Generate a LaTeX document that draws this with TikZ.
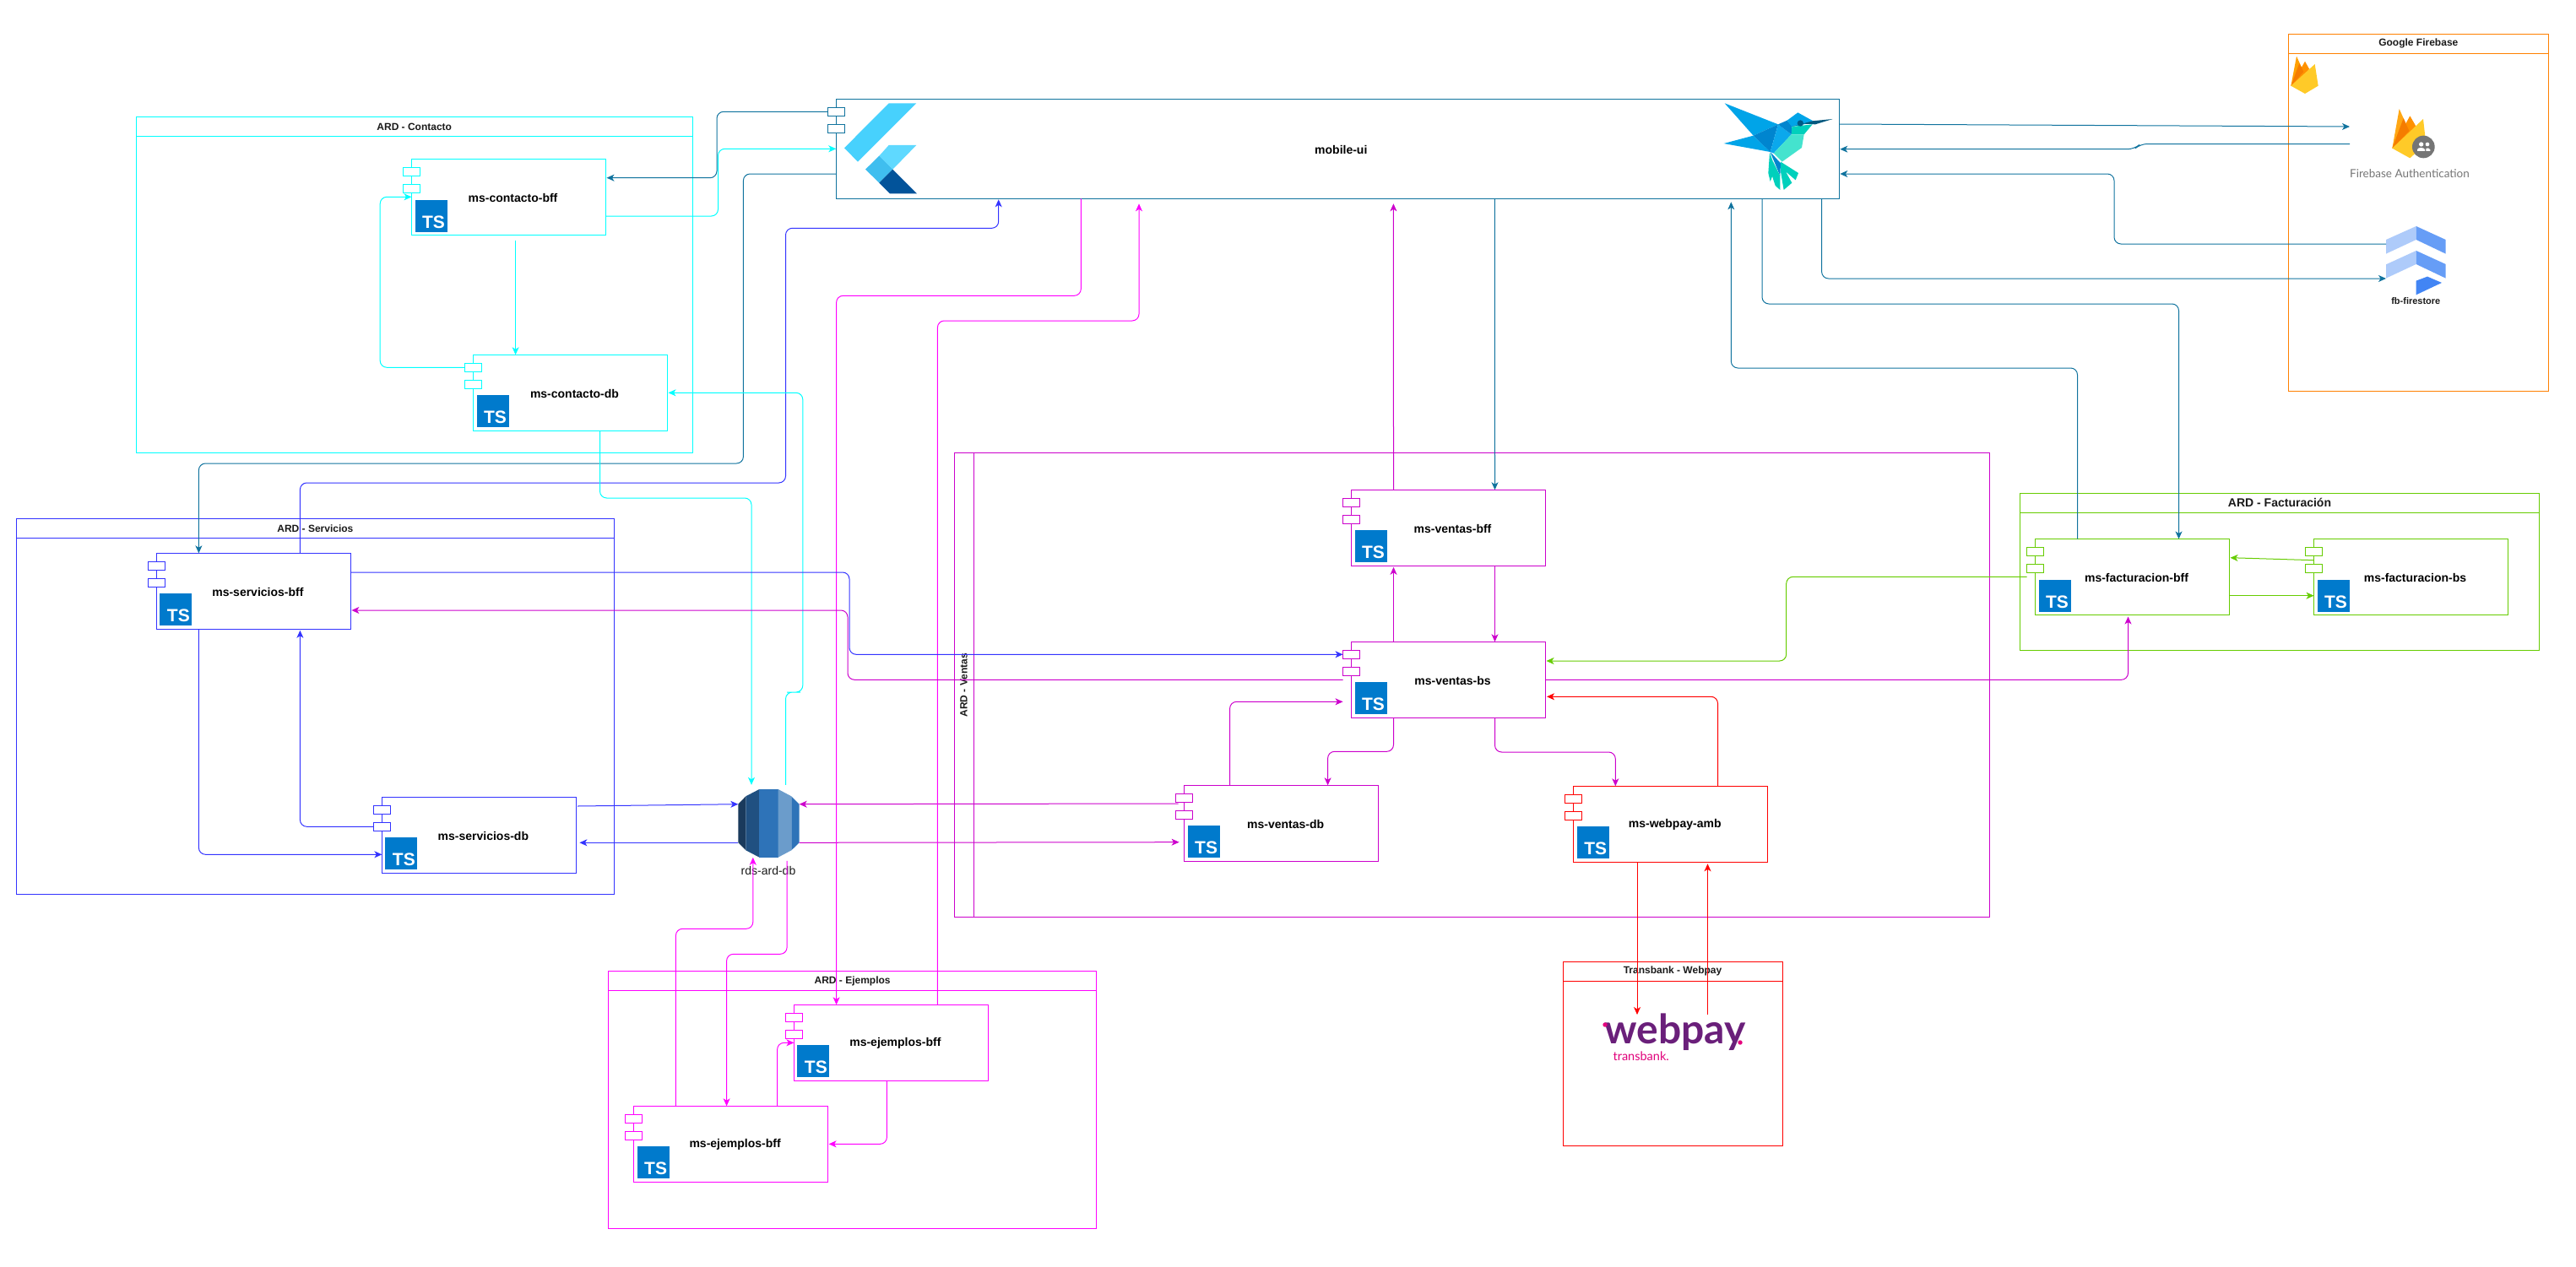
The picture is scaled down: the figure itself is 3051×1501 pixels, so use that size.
\documentclass[tikz,border=0pt]{standalone}
\usepackage{fontspec}
\usepackage{xcolor}
\usepackage{tikz}
\usetikzlibrary{arrows.meta}
\setmainfont{Liberation Sans}
\newfontfamily\logofont{Lato}

\definecolor{ardteal}{HTML}{10739E}
\definecolor{ardcyan}{HTML}{00FFFF}
\definecolor{ardblue}{HTML}{3333FF}
\definecolor{ardpink}{HTML}{FF00FF}
\definecolor{ardviolet}{HTML}{CC00CC}
\definecolor{ardgreen}{HTML}{66CC00}
\definecolor{ardred}{HTML}{FF0000}
\definecolor{ardorange}{HTML}{FF8000}
\definecolor{tsblue}{HTML}{007ACC}
\definecolor{titlegray}{HTML}{1A1A1A}

\tikzset{
	comp/.style={draw=#1,line width=1pt,inner sep=0pt,outer sep=0pt,minimum width=230pt,minimum height=90pt,anchor=north west},
	portbox/.style={draw=#1,fill=white,line width=1pt,inner sep=0pt,outer sep=0pt,minimum width=20pt,minimum height=10pt},
	tsicon/.style={fill=tsblue,text=white,inner sep=0pt,outer sep=0pt,minimum size=38pt,font=\fontsize{21}{21}\selectfont\bfseries},
	complabel/.style={font=\fontsize{14}{16}\selectfont\bfseries,inner sep=0pt},
	grouptitle/.style={font=\fontsize{12}{14}\selectfont\bfseries,text=titlegray,inner sep=0pt},
	groupbox/.style={draw=#1,line width=1pt,inner sep=0pt,outer sep=0pt,anchor=north west},
	spot/.style={inner sep=0pt,outer sep=0pt},
	link/.style={draw=#1,line width=1pt,rounded corners=8pt,-{Stealth[length=9pt,width=8pt,inset=2.5pt]}}
}

\begin{document}
\begin{tikzpicture}[x=1pt,y=-1pt]
	\useasboundingbox (0,0) rectangle (3051,1501);

	\foreach \nm/\gx/\gy/\gw/\gh/\col/\txt/\fs in {
		contacto/161/138.5/659.5/398/ardcyan/ARD - Contacto/12,
		servicios/19.5/614.3/707.8/445/ardblue/ARD - Servicios/12,
		ejemplos/720.6/1150.5/578/305/ardpink/ARD - Ejemplos/12,
		facturacion/2392.7/584.3/614.6/186/ardgreen/ARD - Facturación/14,
		transbank/1851/1139.3/260/218/ardred/Transbank - Webpay/12,
		firebase/2710.3/40.3/308/423/ardorange/Google Firebase/12}
	{
		\node[groupbox=\col,minimum width=\gw pt,minimum height=\gh pt] (\nm) at (\gx,\gy) {};
		\draw[draw=\col,line width=1pt] ([yshift=-23]\nm.north west) -- ([yshift=-23]\nm.north east);
		\node[grouptitle,font=\fontsize{\fs}{16}\selectfont\bfseries] (\nm-title) at ([yshift=-11.5]\nm.north) {\txt};
	}
	\node[groupbox=ardviolet,minimum width=1226pt,minimum height=550pt] (ventas) at (1130.3,536) {};
	\draw[draw=ardviolet,line width=1pt] ([xshift=23]ventas.north west) -- ([xshift=23]ventas.south west);
	\node[grouptitle,rotate=90] (ventas-title) at (1141.5,811.7) {ARD - Ventas};

	\foreach \nm/\cx/\cy/\col/\txt in {
		contacto-bff/487.5/188.5/ardcyan/ms-contacto-bff,
		contacto-db/560.5/420.3/ardcyan/ms-contacto-db,
		servicios-bff/185.4/655.3/ardblue/ms-servicios-bff,
		servicios-db/452.4/944.3/ardblue/ms-servicios-db,
		ventas-bff/1600.5/580.3/ardviolet/ms-ventas-bff,
		ventas-bs/1600.5/760.3/ardviolet/ms-ventas-bs,
		ventas-db/1402.6/930.3/ardviolet/ms-ventas-db,
		webpay/1863.7/931.3/ardred/ms-webpay-amb,
		facturacion-bff/2410.5/638.5/ardgreen/ms-facturacion-bff,
		facturacion-bs/2740.5/638.5/ardgreen/ms-facturacion-bs,
		ejemplos-bff/940.4/1190.3/ardpink/ms-ejemplos-bff,
		ejemplos-bff2/750.6/1310.3/ardpink/ms-ejemplos-bff}
	{
		\node[comp=\col] (\nm) at (\cx,\cy) {};
		\node[portbox=\col] (\nm-p1) at ([yshift=-15]\nm.north west) {};
		\node[portbox=\col] (\nm-p2) at ([yshift=-35]\nm.north west) {};
		\node[tsicon] (\nm-ts) at ([xshift=23,yshift=-67]\nm.north west) {\hspace{6pt}\smash{\raisebox{-14.5pt}{TS}}};
		\node[complabel] (\nm-label) at ([xshift=5,yshift=-1]\nm.center) {\txt};
	}

	\node[comp=ardteal,minimum width=1188pt,minimum height=118pt] (mobile) at (990.3,117.3) {};
	\node[portbox=ardteal] (mobile-p1) at ([yshift=-15]mobile.north west) {};
	\node[portbox=ardteal] (mobile-p2) at ([yshift=-35]mobile.north west) {};
	\node[complabel] (mobile-label) at ([xshift=4,yshift=-1.5]mobile.center) {mobile-ui};

	\begin{scope}[shift={(960,90)},x=0.3333pt,y=-0.3333pt]
		\fill[fill={rgb,255:red,71;green,209;blue,253}] (278,97) -- (376,97) -- (168,305) -- (120,256) -- cycle;
		\fill[fill={rgb,255:red,95;green,217;blue,255}] (278,246) -- (376,246) -- (292,332) -- (244,284) -- cycle;
		\fill[fill={rgb,255:red,63;green,190;blue,239}] (244,284) -- (292,332) -- (244,380) -- (195,332) -- cycle;
		\fill[fill={rgb,255:red,2;green,83;blue,154}] (292,332) -- (378,418) -- (282,418) -- (244,380) -- cycle;
	\end{scope}

	\begin{scope}[shift={(1980,90)},x=0.3333pt,y=-0.3333pt]
		\fill[fill={rgb,255:red,0;green,164;blue,232}] (188,97) -- (378,172) -- (290,212) -- cycle;
		\fill[fill={rgb,255:red,0;green,164;blue,232}] (185,240) -- (290,212) -- (350,270) -- cycle;
		\fill[fill={rgb,255:red,0;green,133;blue,207}] (290,212) -- (378,172) -- (350,270) -- cycle;
		\fill[fill={rgb,255:red,11;green,168;blue,236}] (378,172) -- (425,208) -- (362,275) -- (350,270) -- cycle;
		\fill[fill={rgb,255:red,0;green,133;blue,207}] (378,172) -- (410,158) -- (427,178) -- (425,208) -- cycle;
		\fill[fill={rgb,255:red,0;green,164;blue,232}] (410,158) -- (448,130) -- (502,160) -- (470,172) -- (427,180) -- cycle;
		\fill[fill={rgb,255:red,0;green,208;blue,188}] (427,180) -- (500,172) -- (470,208) -- (425,208) -- cycle;
		\fill[fill={rgb,255:red,68;green,227;blue,206}] (425,208) -- (470,208) -- (462,255) -- (392,305) -- (362,275) -- cycle;
		\fill[fill={rgb,255:red,3;green,89;blue,127}] (427,180) -- (500,160) -- (572,153) -- (510,172) -- (470,170) -- cycle;
		\fill[fill={rgb,255:red,0;green,90;blue,134}] (457,168) circle (11);
		\fill[fill={rgb,255:red,0;green,208;blue,188}] (348,272) -- (358,300) -- (362,345) -- (350,375) -- (343,345) -- cycle;
		\fill[fill={rgb,255:red,0;green,208;blue,188}] (358,300) -- (385,355) -- (385,405) -- (368,390) -- (355,350) -- cycle;
		\fill[fill={rgb,255:red,0;green,208;blue,188}] (387,305) -- (450,345) -- (440,370) -- (405,340) -- (427,380) -- (398,405) -- (387,340) -- cycle;
		\fill[fill={rgb,255:red,0;green,133;blue,207}] (350,270) -- (387,310) -- (385,355) -- (358,290) -- cycle;
	\end{scope}

	\node[spot,minimum width=142pt,minimum height=83pt] (fbauth) at (2854,170.5) {};
	\node[spot,minimum width=71pt,minimum height=81pt] (firestore) at (2861.5,308.5) {};
	\begin{scope}[shift={(2700,30)},x=0.3333pt,y=-0.3333pt]
		\fill[fill={rgb,255:red,255;green,160;blue,0}] (40,215) -- (60,110) -- (85,165) -- cycle;
		\fill[fill={rgb,255:red,255;green,145;blue,0}] (40,215) -- (90,128) -- (105,155) -- (85,190) -- cycle;
		\fill[fill={rgb,255:red,245;green,124;blue,0}] (40,215) -- (70,135) -- (85,165) -- cycle;
		\fill[fill={rgb,255:red,255;green,202;blue,40}] (40,215) -- (125,138) -- (137,215) -- (90,243) -- cycle;

		\fill[fill={rgb,255:red,255;green,167;blue,20}] (400,437) -- (425,297) -- (460,375) -- cycle;
		\fill[fill={rgb,255:red,255;green,145;blue,0}] (400,437) -- (463,322) -- (485,360) -- (450,400) -- cycle;
		\fill[fill={rgb,255:red,245;green,124;blue,0}] (400,437) -- (440,330) -- (460,375) -- cycle;
		\fill[fill={rgb,255:red,255;green,202;blue,40}] (400,437) -- (510,333) -- (520,420) -- (463,472) -- cycle;
		\fill[fill={rgb,255:red,117;green,117;blue,117}] (511,432) circle (40);
		\fill[white] (503,423) circle (8) (525,423) circle (7);
		\fill[white] (489,447) -- (489,441) .. controls (492,433) and (512,433) .. (516,441) -- (516,447) -- cycle;
		\fill[white] (520,447) -- (520,438) .. controls (524,434) and (532,436) .. (535,442) -- (535,447) -- cycle;

		\fill[fill={rgb,255:red,174;green,203;blue,250}] (378,762) -- (485,714) -- (485,762) -- (378,812) -- cycle;
		\fill[fill={rgb,255:red,102;green,157;blue,246}] (485,714) -- (590,762) -- (590,812) -- (485,762) -- cycle;
		\fill[fill={rgb,255:red,174;green,203;blue,250}] (378,850) -- (485,801) -- (485,849) -- (378,899) -- cycle;
		\fill[fill={rgb,255:red,102;green,157;blue,246}] (485,801) -- (590,849) -- (590,899) -- (485,849) -- cycle;
		\fill[fill={rgb,255:red,66;green,133;blue,244}] (485,908) -- (525,893) -- (576,915) -- (485,958) -- cycle;
	\end{scope}
	\node[spot,font=\logofont\fontsize{13.5}{15}\selectfont,text={rgb,255:red,117;green,117;blue,117}] (fbauth-label) at (2854,206) {Firebase Authentication};
	\node[spot,font=\fontsize{11}{13}\selectfont\bfseries,text=titlegray] (firestore-label) at (2861.3,357) {fb-firestore};

	\node[spot,minimum width=72.4pt,minimum height=81pt] (rds) at (910.5,975.3) {};
	\begin{scope}[shift={(840,900)},x=0.3333pt,y=-0.3333pt]
		\fill[fill={rgb,255:red,26;green,58;blue,92}] (103,158) -- (130,130) -- (130,322) -- (103,295) -- cycle;
		\fill[fill={rgb,255:red,32;green,80;blue,129}] (130,130) -- (178,105) -- (178,347) -- (130,322) -- cycle;
		\fill[fill={rgb,255:red,46;green,115;blue,184}] (178,105) -- (245,105) -- (245,347) -- (178,347) -- cycle;
		\fill[fill={rgb,255:red,107;green,156;blue,203}] (245,105) -- (292,130) -- (292,322) -- (245,347) -- cycle;
		\fill[fill={rgb,255:red,46;green,115;blue,184}] (292,130) -- (320,158) -- (320,295) -- (292,322) -- cycle;
	\end{scope}
	\node[spot,font=\fontsize{14}{16}\selectfont,text=titlegray] (rds-label) at (910,1031) {rds-ard-db};

	\node[spot,anchor=base,font=\logofont\fontsize{48}{48}\selectfont\bfseries,text={rgb,255:red,106;green,31;blue,122}] (webpay-logo) at (1984,1236.7) {webpay};
	\node[spot,anchor=base,font=\logofont\fontsize{14.5}{16}\selectfont,text={rgb,255:red,224;green,0;blue,122}] (transbank-logo) at (1943.7,1256.7) {transbank.};
	\fill[fill={rgb,255:red,229;green,0;blue,125}] (1901,1214) circle (2.7) (2061,1235) circle (2.7);
	\coordinate (tb-in) at (1939,1202);
	\coordinate (tb-out) at (2022.5,1202);

	\draw[link=ardteal] (mobile-p1.west) -| (849,170) |- ([xshift=1,yshift=-22.2]contacto-bff.north east);
	\draw[link=ardcyan] ([yshift=-67.5]contacto-bff.north east) -| (850.5,210) |- ([yshift=-59]mobile.north west);
	\draw[link=ardteal] ([yshift=-88.7]mobile.north west) -| (880.4,400) |- (500,549) -| ([xshift=50]servicios-bff.north west);
	\draw[link=ardblue] ([xshift=170]servicios-bff.north west) |- (600,572) -| (930.5,400) |- (1000,270.3) -| ([xshift=192.4,yshift=-1]mobile.south west);
	\draw[link=ardcyan] ([xshift=123.1,yshift=-6]contacto-bff.south west) -- ([xshift=50.1]contacto-db.north west);
	\draw[link=ardcyan] (contacto-db-p1.west) -| (450.2,300) |- ([yshift=-44.8]contacto-bff.north west);
	\draw[link=ardcyan] ([xshift=150]contacto-db.south west) |- (800,590) -| ([xshift=-20.5,yshift=5]rds.north);
	\draw[link=ardcyan] ([xshift=20,yshift=5]rds.north) |- (940,820) -| (950.8,640) |- ([xshift=1]contacto-db.east);
	\draw[link=ardblue] ([xshift=50]servicios-bff.south west) |- ([yshift=-68]servicios-db.north west);
	\draw[link=ardblue] (servicios-db-p2.west) -| ([xshift=170,yshift=-1.5]servicios-bff.south west);
	\draw[link=ardblue] ([xshift=1.7,yshift=-10.7]servicios-db.north east) -- ([yshift=22.6]rds.west);
	\draw[link=ardblue] ([yshift=-23]rds.west) -- ([xshift=4,yshift=-54]servicios-db.north east);
	\draw[link=ardviolet] ([xshift=-7,yshift=-21.7]ventas-db.north west) -- ([yshift=22.6]rds.east);
	\draw[link=ardviolet] ([yshift=-23]rds.east) -- ([xshift=-6,yshift=-67.4]ventas-db.north west);
	\draw[link=ardpink] ([xshift=290]mobile.south west) |- (1100,350.3) -| ([xshift=50.2]ejemplos-bff.north west);
	\draw[link=ardpink] ([xshift=170]ejemplos-bff.north west) |- (1200,380) -| ([xshift=358.7,yshift=-6]mobile.south west);
	\draw[link=ardpink] ([xshift=49.8]ejemplos-bff2.north west) |- (850,1100.3) -| ([xshift=-18.7]rds.south);
	\draw[link=ardpink] ([xshift=21.6,yshift=-4]rds.south) |- (900,1130.3) -| ([xshift=110]ejemplos-bff2.north west);
	\draw[link=ardpink] ([xshift=110]ejemplos-bff.south west) |- ([xshift=1,yshift=-45]ejemplos-bff2.north east);
	\draw[link=ardpink] ([xshift=170]ejemplos-bff2.north west) |- ([yshift=-45]ejemplos-bff.north west);
	\draw[link=ardviolet] ([xshift=50]ventas-bff.north west) -- ([xshift=660.1,yshift=-6]mobile.south west);
	\draw[link=ardteal] ([xshift=780]mobile.south west) -- ([xshift=170]ventas-bff.north west);
	\draw[link=ardviolet] ([xshift=170]ventas-bff.south west) -- ([xshift=170]ventas-bs.north west);
	\draw[link=ardviolet] ([xshift=50]ventas-bs.north west) -- ([xshift=50,yshift=-1.5]ventas-bff.south west);
	\draw[link=ardblue] ([yshift=-22.7]servicios-bff.north east) -| (1006,700) |- (ventas-bs-p1.west);
	\draw[link=ardviolet] ([xshift=-10,yshift=-45]ventas-bs.north west) -| (1004,760) |- ([xshift=1,yshift=-67.7]servicios-bff.north east);
	\draw[link=ardviolet] ([xshift=50]ventas-bs.south west) |- (1600,890.3) -| ([xshift=170]ventas-db.north west);
	\draw[link=ardviolet] ([xshift=54]ventas-db.north west) |- ([xshift=-10,yshift=-71]ventas-bs.north west);
	\draw[link=ardviolet] ([xshift=170]ventas-bs.south west) |- (1850,891) -| ([xshift=49.6]webpay.north west);
	\draw[link=ardred] ([xshift=170.8]webpay.north west) |- ([xshift=1.5,yshift=-65]ventas-bs.north east);
	\draw[link=ardred] ([xshift=75.3]webpay.south west) -- (tb-in);
	\draw[link=ardred] (tb-out) -- ([xshift=158.8,yshift=-2]webpay.south west);
	\draw[link=ardviolet] ([yshift=-45]ventas-bs.north east) -| ([xshift=110,yshift=-2]facturacion-bff.south west);
	\draw[link=ardgreen] ([xshift=-10,yshift=-44.8]facturacion-bff.north west) -| (2115.7,740) |- ([xshift=1,yshift=-22.7]ventas-bs.north east);
	\draw[link=ardgreen] ([yshift=-67.2]facturacion-bff.north east) -- ([yshift=-67.2]facturacion-bs.north west);
	\draw[link=ardgreen] ([yshift=-25.2]facturacion-bs.north west) -- ([xshift=1,yshift=-22.2]facturacion-bff.north east);
	\draw[link=ardteal] ([xshift=50]facturacion-bff.north west) |- (2300,436) -| ([xshift=1060,yshift=-4]mobile.south west);
	\draw[link=ardteal] ([xshift=1096.7]mobile.south west) |- (2300,360) -| ([xshift=170]facturacion-bff.north west);
	\draw[link=ardteal] ([xshift=1167.3]mobile.south west) |- ([yshift=-21.5]firestore.west);
	\draw[link=ardteal] ([yshift=19.5]firestore.west) -| (2504,250) |- ([xshift=1,yshift=-88.7]mobile.north east);
	\draw[link=ardteal] ([yshift=-29.7]mobile.north east) -- ([yshift=20.5]fbauth.west);
	\draw[link=ardteal] (fbauth.west) -- (2535,170.5) -- (2528,176.7) -- ([xshift=1,yshift=-59.4]mobile.north east);
\end{tikzpicture}
\end{document}
